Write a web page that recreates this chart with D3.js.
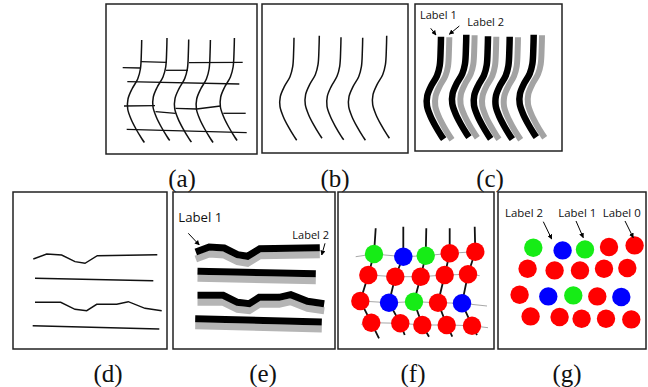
<!DOCTYPE html>
<html><head><meta charset="utf-8">
<script src="https://cdn.jsdelivr.net/npm/d3@7"></script>
<style>body{margin:0;background:#fff}svg{display:block}</style>
</head><body>
<svg id="fig" width="648" height="387"></svg>
<script>
// ---- panel frames (a)-(g), each with its own local coordinate system ----
const panelIds     = ["a", "b", "c", "d", "e", "f", "g"];
const panelLeft    = [106, 262, 415, 13, 173, 338, 498];
const panelTop     = [4, 4, 4, 192, 192, 192, 192];
const panelWidth   = [151, 146, 147, 154, 162, 156, 148];
const panelHeight  = [150, 149, 147, 157, 157, 157, 157];
const captionX     = [182, 335, 490, 108, 263, 413, 567];
const captionY     = [187, 187, 187, 382, 382, 382, 382];

// ---- vertical wavy strands (panels a, b, c) ----
const waveProfile = [[0,0],[-0.3,12],[-1.3,29],[-4,39],[-9.7,49],[-13.7,59],[-14,69],[-10.7,79],[-5.7,89],[0.3,99],[2.7,102.5]];
const waveTopX = [32, 57.3, 79, 100.7, 124.7];
const waveTopY = [33.7, 31.7, 33.3, 33.7, 31.7];

// ---- broken horizontal grid pieces in panel a ----
const gridPieces = [
  [[16.7,63.7],[34.5,64]],
  [[34.8,57.7],[60.7,58.3]],
  [[59.8,66.3],[82,66.3]],
  [[83,58.7],[136.7,58.3]],
  [[21.3,77.7],[133.3,80]],
  [[18,102],[49,101.7]],
  [[49.5,107.7],[69.5,109.3]],
  [[69.5,104.3],[90.7,105],[114.5,102]],
  [[117.3,109.3],[139.7,109.3]],
  [[20.7,125.3],[140.7,128.7]]
];

// ---- horizontal polylines (panels d, e) ----
const trackLines = [
  [[20.3,67],[33.7,62],[48.7,63],[62,69.7],[72,71.3],[84.3,63.7],[144.3,62.7]],
  [[22,86.3],[140.3,88.7]],
  [[22,110.3],[47.7,110.3],[62,117.3],[73.7,118.7],[83.7,112.3],[103.7,112.3],[115.3,109.7],[132,116.3],[148.7,118.7]],
  [[19.7,133.7],[146.3,137]]
];

// ---- labelled dot lattice (panels f, g) ----
const dotX = [[36,65.3,87.7,111.7,137.3],[30.3,57.3,82.7,106.7,130],[22.3,51,76,100,124],[33.3,62.3,84.3,108.7,134]];
const dotY = [[62,64.7,63.7,61.3,59.7],[83,84.7,84.7,83,82.3],[109,110.7,109.7,110.7,111.3],[130.7,131.3,133,133,133.7]];
const dotClass = [[1,2,1,0,0],[0,0,0,0,0],[0,2,1,0,2],[0,0,0,0,0]];
const classColor = ["#ff0000", "#16ec16", "#0000ff"];
const strandTop = [[37.7,36.3],[65.3,34.7],[88.3,36.3],[111.7,36.3],[136.7,34.7]];
const strandBottom = [[41,146.3],[66.7,143],[91,144.7],[114.3,144.7],[139,143]];
const rowStart = [[17.7,64.7],[30.3,83],[14,108.5],[23.3,132.3]];
const rowEnd = [[146,59.3],[141.7,83.7],[149,114],[150,135.7]];

// ---- annotations ----
const labelText  = ["Label 1", "Label 2", "Label 1", "Label 2", "Label 2", "Label 1", "Label 0"];
const labelPanel = ["c", "c", "e", "e", "g", "g", "g"];
const labelX     = [5, 52.3, 5.3, 119.3, 7, 60.3, 104.7];
const labelY     = [15.3, 22, 30, 47, 24.7, 24.7, 24.7];
const labelSize  = [11, 11, 13.2, 11, 11.4, 11.4, 11.4];
const arrowFrom  = [[15.7,24.3],[44.3,22],[15.3,41.3],[152,51.3],[45.3,29.7],[78,29],[127,29]];
const arrowTo    = [[21,31],[34.3,30.3],[26.3,53],[148.7,63],[53.7,47],[85.3,45.7],[135.3,45.7]];

const svg = d3.select("#fig");

svg.append("defs").append("marker")
  .attr("id", "head").attr("viewBox", "0 0 10 10")
  .attr("refX", 9).attr("refY", 5)
  .attr("markerWidth", 5).attr("markerHeight", 5)
  .attr("markerUnits", "userSpaceOnUse").attr("orient", "auto")
  .append("path").attr("d", "M0,0L10,5L0,10Z").attr("fill", "#000");

// one scale pair per panel
const frames = {};
panelIds.forEach((id, i) => {
  const x = d3.scaleLinear().domain([0, panelWidth[i]]).range([panelLeft[i], panelLeft[i] + panelWidth[i]]);
  const y = d3.scaleLinear().domain([0, panelHeight[i]]).range([panelTop[i], panelTop[i] + panelHeight[i]]);
  const g = svg.append("g").attr("class", "panel-" + id);
  frames[id] = {x, y, g};
  svg.append("text")
    .attr("x", captionX[i]).attr("y", captionY[i])
    .attr("text-anchor", "middle")
    .attr("font-family", "'Liberation Serif', serif").attr("font-size", 25)
    .attr("fill", "#111")
    .text("(" + id + ")");
});

function lineIn(id, dx, dy, curve) {
  const f = frames[id];
  return d3.line().x(p => f.x(p[0] + dx)).y(p => f.y(p[1] + dy)).curve(curve || d3.curveLinear);
}
function strand(i) {
  return waveProfile.map(p => [waveTopX[i] + p[0], waveTopY[i] + p[1]]);
}

// (a) strands with broken grid
const gridLine = lineIn("a", 0, 0);
frames.a.g.selectAll("path.grid").data(gridPieces).join("path")
  .attr("class", "grid").attr("d", gridLine)
  .attr("fill", "none").attr("stroke", "#111").attr("stroke-width", 1.3);
const waveA = lineIn("a", 3.7, 2.3, d3.curveCatmullRom);
frames.a.g.selectAll("path.wave").data(waveTopX.map((_, i) => strand(i))).join("path")
  .attr("class", "wave").attr("d", waveA)
  .attr("fill", "none").attr("stroke", "#111").attr("stroke-width", 1.5);

// (b) strands alone
const waveB = lineIn("b", 0, 0, d3.curveCatmullRom);
frames.b.g.selectAll("path.wave").data(waveTopX.map((_, i) => strand(i))).join("path")
  .attr("class", "wave").attr("d", waveB)
  .attr("fill", "none").attr("stroke", "#111").attr("stroke-width", 1.5);

// (c) paired thick strands: gray behind, black in front
const waveCg = lineIn("c", 2.3, -0.5, d3.curveCatmullRom);
const waveCk = lineIn("c", -6, -1, d3.curveCatmullRom);
frames.c.g.selectAll("path.wg").data(waveTopX.map((_, i) => strand(i))).join("path")
  .attr("class", "wg").attr("d", waveCg)
  .attr("fill", "none").attr("stroke", "#a3a3a3").attr("stroke-width", 6);
frames.c.g.selectAll("path.wk").data(waveTopX.map((_, i) => strand(i))).join("path")
  .attr("class", "wk").attr("d", waveCk)
  .attr("fill", "none").attr("stroke", "#000").attr("stroke-width", 6.5);

// (d) thin tracks
frames.d.g.selectAll("path.trk").data(trackLines).join("path")
  .attr("class", "trk").attr("d", lineIn("d", 0, 0))
  .attr("fill", "none").attr("stroke", "#111").attr("stroke-width", 1.4);

// (e) paired thick tracks
frames.e.g.selectAll("path.tg").data(trackLines).join("path")
  .attr("class", "tg").attr("d", lineIn("e", 2.5, 0))
  .attr("fill", "none").attr("stroke", "#b5b5b5").attr("stroke-width", 7);
frames.e.g.selectAll("path.tk").data(trackLines).join("path")
  .attr("class", "tk").attr("d", lineIn("e", 2.5, -7))
  .attr("fill", "none").attr("stroke", "#000").attr("stroke-width", 7);

// (f) lattice with connecting strands, (g) dots only
const dots = [];
dotX.forEach((row, r) => row.forEach((vx, c) => dots.push({x: vx, y: dotY[r][c], k: dotClass[r][c]})));

const rows = dotX.map((row, r) => [rowStart[r], ...row.map((vx, c) => [vx, dotY[r][c]]), rowEnd[r]]);
frames.f.g.selectAll("path.row").data(rows).join("path")
  .attr("class", "row").attr("d", lineIn("f", 0, 0))
  .attr("fill", "none").attr("stroke", "#a8a8a8").attr("stroke-width", 1);
const cols = strandTop.map((t, c) => [t, ...dotX.map((row, r) => [row[c], dotY[r][c]]), strandBottom[c]]);
frames.f.g.selectAll("path.col").data(cols).join("path")
  .attr("class", "col").attr("d", lineIn("f", 0, 0))
  .attr("fill", "none").attr("stroke", "#111").attr("stroke-width", 1.8);

[["f", 0, 0], ["g", -0.7, -6.3]].forEach(([id, dx, dy]) => {
  const f = frames[id];
  f.g.selectAll("circle.dot").data(dots).join("circle")
    .attr("class", "dot")
    .attr("cx", d => f.x(d.x + dx)).attr("cy", d => f.y(d.y + dy))
    .attr("r", 9.2).attr("fill", d => classColor[d.k]);
});

// panel borders on top
panelIds.forEach((id, i) => {
  const f = frames[id];
  f.g.append("rect")
    .attr("x", f.x(0)).attr("y", f.y(0))
    .attr("width", f.x(panelWidth[i]) - f.x(0)).attr("height", f.y(panelHeight[i]) - f.y(0))
    .attr("fill", "none").attr("stroke", "#222").attr("stroke-width", 1.5);
});

// annotations
labelText.forEach((t, i) => {
  const f = frames[labelPanel[i]];
  f.g.append("text")
    .attr("x", f.x(labelX[i])).attr("y", f.y(labelY[i]))
    .attr("font-family", "'Open Sans', sans-serif").attr("font-size", labelSize[i])
    .attr("fill", "#111").text(t);
  f.g.append("line")
    .attr("x1", f.x(arrowFrom[i][0])).attr("y1", f.y(arrowFrom[i][1]))
    .attr("x2", f.x(arrowTo[i][0])).attr("y2", f.y(arrowTo[i][1]))
    .attr("stroke", "#000").attr("stroke-width", 1)
    .attr("marker-end", "url(#head)");
});
</script>
</body></html>
